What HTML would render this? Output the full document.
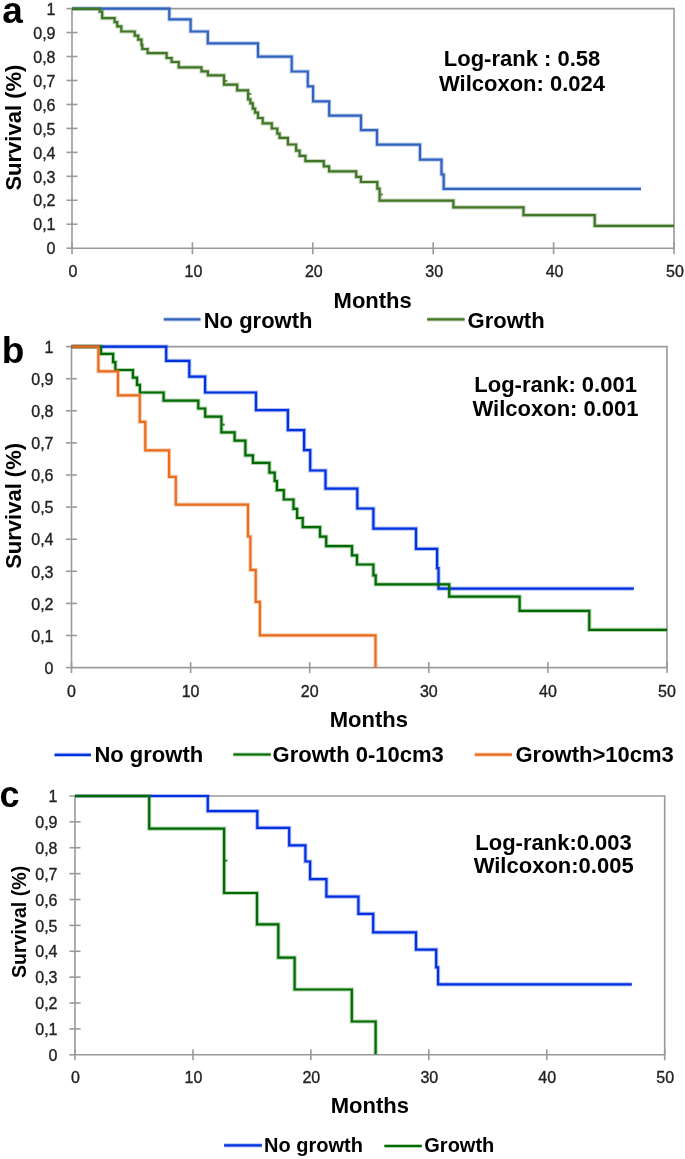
<!DOCTYPE html>
<html><head><meta charset="utf-8"><style>
html,body{margin:0;padding:0;background:#fff;overflow:hidden}
svg{display:block;font-family:"Liberation Sans",sans-serif;will-change:transform}
</style></head><body>
<svg width="685" height="1159" viewBox="0 0 685 1159">
<rect width="685" height="1159" fill="#fff"/>
<path d="M72 248.2 V8.6 H674 V248.2 H72" fill="none" stroke="#9a9a9a" stroke-width="1.6"/>
<line x1="66.5" y1="248.2" x2="72" y2="248.2" stroke="#9a9a9a" stroke-width="1.6"/>
<text x="55.5" y="254.4" font-size="16" font-weight="normal" text-anchor="end" fill="#222" stroke="#222" stroke-width="0.35">0</text>
<line x1="66.5" y1="224.24" x2="77.5" y2="224.24" stroke="#9a9a9a" stroke-width="1.6"/>
<text x="55.5" y="230.44" font-size="16" font-weight="normal" text-anchor="end" fill="#222" stroke="#222" stroke-width="0.35">0,1</text>
<line x1="66.5" y1="200.28" x2="77.5" y2="200.28" stroke="#9a9a9a" stroke-width="1.6"/>
<text x="55.5" y="206.48" font-size="16" font-weight="normal" text-anchor="end" fill="#222" stroke="#222" stroke-width="0.35">0,2</text>
<line x1="66.5" y1="176.32" x2="77.5" y2="176.32" stroke="#9a9a9a" stroke-width="1.6"/>
<text x="55.5" y="182.52" font-size="16" font-weight="normal" text-anchor="end" fill="#222" stroke="#222" stroke-width="0.35">0,3</text>
<line x1="66.5" y1="152.36" x2="77.5" y2="152.36" stroke="#9a9a9a" stroke-width="1.6"/>
<text x="55.5" y="158.56" font-size="16" font-weight="normal" text-anchor="end" fill="#222" stroke="#222" stroke-width="0.35">0,4</text>
<line x1="66.5" y1="128.4" x2="77.5" y2="128.4" stroke="#9a9a9a" stroke-width="1.6"/>
<text x="55.5" y="134.6" font-size="16" font-weight="normal" text-anchor="end" fill="#222" stroke="#222" stroke-width="0.35">0,5</text>
<line x1="66.5" y1="104.44" x2="77.5" y2="104.44" stroke="#9a9a9a" stroke-width="1.6"/>
<text x="55.5" y="110.64" font-size="16" font-weight="normal" text-anchor="end" fill="#222" stroke="#222" stroke-width="0.35">0,6</text>
<line x1="66.5" y1="80.48" x2="77.5" y2="80.48" stroke="#9a9a9a" stroke-width="1.6"/>
<text x="55.5" y="86.68" font-size="16" font-weight="normal" text-anchor="end" fill="#222" stroke="#222" stroke-width="0.35">0,7</text>
<line x1="66.5" y1="56.52" x2="77.5" y2="56.52" stroke="#9a9a9a" stroke-width="1.6"/>
<text x="55.5" y="62.72" font-size="16" font-weight="normal" text-anchor="end" fill="#222" stroke="#222" stroke-width="0.35">0,8</text>
<line x1="66.5" y1="32.56" x2="77.5" y2="32.56" stroke="#9a9a9a" stroke-width="1.6"/>
<text x="55.5" y="38.76" font-size="16" font-weight="normal" text-anchor="end" fill="#222" stroke="#222" stroke-width="0.35">0,9</text>
<line x1="66.5" y1="8.6" x2="77.5" y2="8.6" stroke="#9a9a9a" stroke-width="1.6"/>
<text x="55.5" y="14.8" font-size="16" font-weight="normal" text-anchor="end" fill="#222" stroke="#222" stroke-width="0.35">1</text>
<line x1="72" y1="242.2" x2="72" y2="254.2" stroke="#9a9a9a" stroke-width="1.6"/>
<text x="73" y="276.5" font-size="16" font-weight="normal" text-anchor="middle" fill="#222" stroke="#222" stroke-width="0.35">0</text>
<line x1="192.4" y1="242.2" x2="192.4" y2="254.2" stroke="#9a9a9a" stroke-width="1.6"/>
<text x="193.4" y="276.5" font-size="16" font-weight="normal" text-anchor="middle" fill="#222" stroke="#222" stroke-width="0.35">10</text>
<line x1="312.8" y1="242.2" x2="312.8" y2="254.2" stroke="#9a9a9a" stroke-width="1.6"/>
<text x="313.8" y="276.5" font-size="16" font-weight="normal" text-anchor="middle" fill="#222" stroke="#222" stroke-width="0.35">20</text>
<line x1="433.2" y1="242.2" x2="433.2" y2="254.2" stroke="#9a9a9a" stroke-width="1.6"/>
<text x="434.2" y="276.5" font-size="16" font-weight="normal" text-anchor="middle" fill="#222" stroke="#222" stroke-width="0.35">30</text>
<line x1="553.6" y1="242.2" x2="553.6" y2="254.2" stroke="#9a9a9a" stroke-width="1.6"/>
<text x="554.6" y="276.5" font-size="16" font-weight="normal" text-anchor="middle" fill="#222" stroke="#222" stroke-width="0.35">40</text>
<line x1="674" y1="242.2" x2="674" y2="254.2" stroke="#9a9a9a" stroke-width="1.6"/>
<text x="675" y="276.5" font-size="16" font-weight="normal" text-anchor="middle" fill="#222" stroke="#222" stroke-width="0.35">50</text>
<path d="M72 8.6 H169.3 V19.3 H190.6 V31.5 H207.8 V43.4 H258 V56.6 H291.7 V71.5 H307.8 V86.4 H313.1 V101.3 H329.2 V115.7 H361 V130.1 H377 V144.7 H420 V159.6 H441.5 V174.5 H443.7 V188.8 H641" fill="none" stroke="#3263bf" stroke-width="4.2" stroke-opacity="0.3" stroke-linejoin="miter"/>
<path d="M72 8.6 H169.3 V19.3 H190.6 V31.5 H207.8 V43.4 H258 V56.6 H291.7 V71.5 H307.8 V86.4 H313.1 V101.3 H329.2 V115.7 H361 V130.1 H377 V144.7 H420 V159.6 H441.5 V174.5 H443.7 V188.8 H641" fill="none" stroke="#3263bf" stroke-width="2.2" stroke-linejoin="miter" stroke-linecap="butt"/>
<path d="M72 8.8 H99.7 V11.7 H102.2 V18.1 H114.6 V22.2 H117.2 V26.3 H121.3 V31.5 H134.7 V35.6 H138.2 V39.7 H141.5 V45 H142.3 V49 H147.6 V53.1 H166.6 V58 H171.6 V62 H178.7 V67.4 H201.5 V71.3 H207.9 V75.3 H224 V84.7 H237.2 V90.3 H248.1 V99.3 H250.4 V103.4 H252.8 V108.6 H255.1 V112.7 H258 V118 H262.7 V123.4 H271.8 V128.5 H277.3 V133.7 H279.6 V137.8 H287.9 V144.5 H296.1 V150.7 H299.6 V155.9 H305.4 V161.2 H323.8 V166.4 H329.1 V171.3 H356.2 V176.9 H360.9 V182 H377.3 V188.7 H379.6 V200.6 H453.4 V207.4 H523.5 V215.2 H594.7 V225.9 H674" fill="none" stroke="#417627" stroke-width="4.2" stroke-opacity="0.3" stroke-linejoin="miter"/>
<path d="M72 8.8 H99.7 V11.7 H102.2 V18.1 H114.6 V22.2 H117.2 V26.3 H121.3 V31.5 H134.7 V35.6 H138.2 V39.7 H141.5 V45 H142.3 V49 H147.6 V53.1 H166.6 V58 H171.6 V62 H178.7 V67.4 H201.5 V71.3 H207.9 V75.3 H224 V84.7 H237.2 V90.3 H248.1 V99.3 H250.4 V103.4 H252.8 V108.6 H255.1 V112.7 H258 V118 H262.7 V123.4 H271.8 V128.5 H277.3 V133.7 H279.6 V137.8 H287.9 V144.5 H296.1 V150.7 H299.6 V155.9 H305.4 V161.2 H323.8 V166.4 H329.1 V171.3 H356.2 V176.9 H360.9 V182 H377.3 V188.7 H379.6 V200.6 H453.4 V207.4 H523.5 V215.2 H594.7 V225.9 H674" fill="none" stroke="#417627" stroke-width="2.2" stroke-linejoin="miter" stroke-linecap="butt"/>
<path d="M225 80.9 h2.4" stroke="#417627" stroke-width="2" stroke-opacity="0.8"/>
<path d="M249 94 h2.4" stroke="#417627" stroke-width="2" stroke-opacity="0.8"/>
<path d="M380.6 194.5 h2.4" stroke="#417627" stroke-width="2" stroke-opacity="0.8"/>
<text x="21.5" y="127.6" font-size="22" font-weight="bold" text-anchor="middle" fill="#000" transform="rotate(-90 21.5 127.6)">Survival (%)</text>
<text x="333.6" y="307.5" font-size="22" font-weight="bold" text-anchor="start" fill="#000" >Months</text>
<path d="M163.7 319.4 H200.5" fill="none" stroke="#3263bf" stroke-width="4.2" stroke-opacity="0.3" stroke-linejoin="miter"/>
<path d="M163.7 319.4 H200.5" fill="none" stroke="#3263bf" stroke-width="2.2" stroke-linejoin="miter" stroke-linecap="butt"/>
<text x="203.7" y="327.5" font-size="22" font-weight="bold" text-anchor="start" fill="#000" >No growth</text>
<path d="M427.2 319.3 H464.6" fill="none" stroke="#417627" stroke-width="4.2" stroke-opacity="0.3" stroke-linejoin="miter"/>
<path d="M427.2 319.3 H464.6" fill="none" stroke="#417627" stroke-width="2.2" stroke-linejoin="miter" stroke-linecap="butt"/>
<text x="467.6" y="327.5" font-size="22" font-weight="bold" text-anchor="start" fill="#000" >Growth</text>
<text x="522" y="66" font-size="22" font-weight="bold" text-anchor="middle" fill="#000" >Log-rank : 0.58</text>
<text x="522" y="91" font-size="22" font-weight="bold" text-anchor="middle" fill="#000" >Wilcoxon: 0.024</text>
<text x="2.2" y="22.5" font-size="37" font-weight="bold" text-anchor="start" fill="#000" >a</text>
<path d="M71.5 667.6 V346.6 H667 V667.6 H71.5" fill="none" stroke="#9a9a9a" stroke-width="1.6"/>
<line x1="66" y1="667.6" x2="71.5" y2="667.6" stroke="#9a9a9a" stroke-width="1.6"/>
<text x="53.5" y="673.8" font-size="16" font-weight="normal" text-anchor="end" fill="#222" stroke="#222" stroke-width="0.35">0</text>
<line x1="66" y1="635.5" x2="77" y2="635.5" stroke="#9a9a9a" stroke-width="1.6"/>
<text x="53.5" y="641.7" font-size="16" font-weight="normal" text-anchor="end" fill="#222" stroke="#222" stroke-width="0.35">0,1</text>
<line x1="66" y1="603.4" x2="77" y2="603.4" stroke="#9a9a9a" stroke-width="1.6"/>
<text x="53.5" y="609.6" font-size="16" font-weight="normal" text-anchor="end" fill="#222" stroke="#222" stroke-width="0.35">0,2</text>
<line x1="66" y1="571.3" x2="77" y2="571.3" stroke="#9a9a9a" stroke-width="1.6"/>
<text x="53.5" y="577.5" font-size="16" font-weight="normal" text-anchor="end" fill="#222" stroke="#222" stroke-width="0.35">0,3</text>
<line x1="66" y1="539.2" x2="77" y2="539.2" stroke="#9a9a9a" stroke-width="1.6"/>
<text x="53.5" y="545.4" font-size="16" font-weight="normal" text-anchor="end" fill="#222" stroke="#222" stroke-width="0.35">0,4</text>
<line x1="66" y1="507.1" x2="77" y2="507.1" stroke="#9a9a9a" stroke-width="1.6"/>
<text x="53.5" y="513.3" font-size="16" font-weight="normal" text-anchor="end" fill="#222" stroke="#222" stroke-width="0.35">0,5</text>
<line x1="66" y1="475" x2="77" y2="475" stroke="#9a9a9a" stroke-width="1.6"/>
<text x="53.5" y="481.2" font-size="16" font-weight="normal" text-anchor="end" fill="#222" stroke="#222" stroke-width="0.35">0,6</text>
<line x1="66" y1="442.9" x2="77" y2="442.9" stroke="#9a9a9a" stroke-width="1.6"/>
<text x="53.5" y="449.1" font-size="16" font-weight="normal" text-anchor="end" fill="#222" stroke="#222" stroke-width="0.35">0,7</text>
<line x1="66" y1="410.8" x2="77" y2="410.8" stroke="#9a9a9a" stroke-width="1.6"/>
<text x="53.5" y="417" font-size="16" font-weight="normal" text-anchor="end" fill="#222" stroke="#222" stroke-width="0.35">0,8</text>
<line x1="66" y1="378.7" x2="77" y2="378.7" stroke="#9a9a9a" stroke-width="1.6"/>
<text x="53.5" y="384.9" font-size="16" font-weight="normal" text-anchor="end" fill="#222" stroke="#222" stroke-width="0.35">0,9</text>
<line x1="66" y1="346.6" x2="77" y2="346.6" stroke="#9a9a9a" stroke-width="1.6"/>
<text x="53.5" y="352.8" font-size="16" font-weight="normal" text-anchor="end" fill="#222" stroke="#222" stroke-width="0.35">1</text>
<line x1="71.5" y1="662.1" x2="71.5" y2="673.1" stroke="#9a9a9a" stroke-width="1.6"/>
<text x="71.5" y="696.5" font-size="16" font-weight="normal" text-anchor="middle" fill="#222" stroke="#222" stroke-width="0.35">0</text>
<line x1="190.6" y1="662.1" x2="190.6" y2="673.1" stroke="#9a9a9a" stroke-width="1.6"/>
<text x="190.6" y="696.5" font-size="16" font-weight="normal" text-anchor="middle" fill="#222" stroke="#222" stroke-width="0.35">10</text>
<line x1="309.7" y1="662.1" x2="309.7" y2="673.1" stroke="#9a9a9a" stroke-width="1.6"/>
<text x="309.7" y="696.5" font-size="16" font-weight="normal" text-anchor="middle" fill="#222" stroke="#222" stroke-width="0.35">20</text>
<line x1="428.8" y1="662.1" x2="428.8" y2="673.1" stroke="#9a9a9a" stroke-width="1.6"/>
<text x="428.8" y="696.5" font-size="16" font-weight="normal" text-anchor="middle" fill="#222" stroke="#222" stroke-width="0.35">30</text>
<line x1="547.9" y1="662.1" x2="547.9" y2="673.1" stroke="#9a9a9a" stroke-width="1.6"/>
<text x="547.9" y="696.5" font-size="16" font-weight="normal" text-anchor="middle" fill="#222" stroke="#222" stroke-width="0.35">40</text>
<line x1="667" y1="662.1" x2="667" y2="673.1" stroke="#9a9a9a" stroke-width="1.6"/>
<text x="667" y="696.5" font-size="16" font-weight="normal" text-anchor="middle" fill="#222" stroke="#222" stroke-width="0.35">50</text>
<path d="M71.5 346.6 H166.2 V360.9 H189.3 V376.7 H205.1 V392.5 H256 V410.1 H287.9 V430.2 H304.1 V450.1 H310.2 V470.5 H325.5 V488.6 H357.3 V508.5 H373.4 V528.7 H416 V548.8 H437.1 V568.2 H438.5 V588.7 H633.8" fill="none" stroke="#0033e0" stroke-width="4.2" stroke-opacity="0.3" stroke-linejoin="miter"/>
<path d="M71.5 346.6 H166.2 V360.9 H189.3 V376.7 H205.1 V392.5 H256 V410.1 H287.9 V430.2 H304.1 V450.1 H310.2 V470.5 H325.5 V488.6 H357.3 V508.5 H373.4 V528.7 H416 V548.8 H437.1 V568.2 H438.5 V588.7 H633.8" fill="none" stroke="#0033e0" stroke-width="2.2" stroke-linejoin="miter" stroke-linecap="butt"/>
<path d="M71.5 346.6 H101 V353.9 H113.1 V362.2 H115.4 V370 H132.9 V377.6 H137 V384.9 H139.9 V392.5 H163.6 V400.7 H198.3 V408.5 H205.2 V416.7 H221.4 V432.4 H234.6 V440.6 H245.4 V455.4 H252.9 V462.8 H269.4 V472.6 H274.7 V481 H276.9 V490.1 H283.8 V499.5 H293.5 V508.8 H297.1 V518 H302.7 V527.2 H320 V536.6 H326.2 V546.2 H352 V555.4 H357 V564.5 H373.4 V575.3 H375.7 V584.4 H449.2 V596.6 H519.6 V610.8 H589.3 V629.8 H667" fill="none" stroke="#006b00" stroke-width="4.2" stroke-opacity="0.3" stroke-linejoin="miter"/>
<path d="M71.5 346.6 H101 V353.9 H113.1 V362.2 H115.4 V370 H132.9 V377.6 H137 V384.9 H139.9 V392.5 H163.6 V400.7 H198.3 V408.5 H205.2 V416.7 H221.4 V432.4 H234.6 V440.6 H245.4 V455.4 H252.9 V462.8 H269.4 V472.6 H274.7 V481 H276.9 V490.1 H283.8 V499.5 H293.5 V508.8 H297.1 V518 H302.7 V527.2 H320 V536.6 H326.2 V546.2 H352 V555.4 H357 V564.5 H373.4 V575.3 H375.7 V584.4 H449.2 V596.6 H519.6 V610.8 H589.3 V629.8 H667" fill="none" stroke="#006b00" stroke-width="2.2" stroke-linejoin="miter" stroke-linecap="butt"/>
<path d="M71.5 346.6 H98.4 V371.4 H118 V395.4 H139.8 V421.9 H145.3 V450.3 H169.1 V476.8 H175.8 V504.7 H248 V536.5 H250.4 V569.8 H255.7 V601.8 H259.9 V635.3 H375.5 V667.6" fill="none" stroke="#e86d1e" stroke-width="4.2" stroke-opacity="0.3" stroke-linejoin="miter"/>
<path d="M71.5 346.6 H98.4 V371.4 H118 V395.4 H139.8 V421.9 H145.3 V450.3 H169.1 V476.8 H175.8 V504.7 H248 V536.5 H250.4 V569.8 H255.7 V601.8 H259.9 V635.3 H375.5 V667.6" fill="none" stroke="#e86d1e" stroke-width="2.2" stroke-linejoin="miter" stroke-linecap="butt"/>
<path d="M222.4 424.6 h2.4" stroke="#006b00" stroke-width="2" stroke-opacity="0.8"/>
<text x="21.3" y="505.9" font-size="22" font-weight="bold" text-anchor="middle" fill="#000" transform="rotate(-90 21.3 505.9)">Survival (%)</text>
<text x="329.7" y="727.4" font-size="22" font-weight="bold" text-anchor="start" fill="#000" >Months</text>
<path d="M54.5 754.8 H91" fill="none" stroke="#0033e0" stroke-width="4.2" stroke-opacity="0.3" stroke-linejoin="miter"/>
<path d="M54.5 754.8 H91" fill="none" stroke="#0033e0" stroke-width="2.2" stroke-linejoin="miter" stroke-linecap="butt"/>
<text x="94.4" y="761.8" font-size="22" font-weight="bold" text-anchor="start" fill="#000" >No growth</text>
<path d="M233.3 754.5 H270.8" fill="none" stroke="#006b00" stroke-width="4.2" stroke-opacity="0.3" stroke-linejoin="miter"/>
<path d="M233.3 754.5 H270.8" fill="none" stroke="#006b00" stroke-width="2.2" stroke-linejoin="miter" stroke-linecap="butt"/>
<text x="272.6" y="761.8" font-size="22" font-weight="bold" text-anchor="start" fill="#000" >Growth 0-10cm3</text>
<path d="M474.8 754.6 H511.9" fill="none" stroke="#e86d1e" stroke-width="4.2" stroke-opacity="0.3" stroke-linejoin="miter"/>
<path d="M474.8 754.6 H511.9" fill="none" stroke="#e86d1e" stroke-width="2.2" stroke-linejoin="miter" stroke-linecap="butt"/>
<text x="515.5" y="761.8" font-size="22" font-weight="bold" text-anchor="start" fill="#000" >Growth&gt;10cm3</text>
<text x="474.3" y="391.9" font-size="22" font-weight="bold" text-anchor="start" fill="#000" >Log-rank: 0.001</text>
<text x="472.5" y="416.3" font-size="22" font-weight="bold" text-anchor="start" fill="#000" >Wilcoxon: 0.001</text>
<text x="1.7" y="363.2" font-size="37" font-weight="bold" text-anchor="start" fill="#000" >b</text>
<path d="M75 1054.8 V796 H664.7 V1054.8 H75" fill="none" stroke="#9a9a9a" stroke-width="1.6"/>
<line x1="69.5" y1="1054.8" x2="75" y2="1054.8" stroke="#9a9a9a" stroke-width="1.6"/>
<text x="57.5" y="1061" font-size="16" font-weight="normal" text-anchor="end" fill="#222" stroke="#222" stroke-width="0.35">0</text>
<line x1="69.5" y1="1028.92" x2="80.5" y2="1028.92" stroke="#9a9a9a" stroke-width="1.6"/>
<text x="57.5" y="1035.12" font-size="16" font-weight="normal" text-anchor="end" fill="#222" stroke="#222" stroke-width="0.35">0,1</text>
<line x1="69.5" y1="1003.04" x2="80.5" y2="1003.04" stroke="#9a9a9a" stroke-width="1.6"/>
<text x="57.5" y="1009.24" font-size="16" font-weight="normal" text-anchor="end" fill="#222" stroke="#222" stroke-width="0.35">0,2</text>
<line x1="69.5" y1="977.16" x2="80.5" y2="977.16" stroke="#9a9a9a" stroke-width="1.6"/>
<text x="57.5" y="983.36" font-size="16" font-weight="normal" text-anchor="end" fill="#222" stroke="#222" stroke-width="0.35">0,3</text>
<line x1="69.5" y1="951.28" x2="80.5" y2="951.28" stroke="#9a9a9a" stroke-width="1.6"/>
<text x="57.5" y="957.48" font-size="16" font-weight="normal" text-anchor="end" fill="#222" stroke="#222" stroke-width="0.35">0,4</text>
<line x1="69.5" y1="925.4" x2="80.5" y2="925.4" stroke="#9a9a9a" stroke-width="1.6"/>
<text x="57.5" y="931.6" font-size="16" font-weight="normal" text-anchor="end" fill="#222" stroke="#222" stroke-width="0.35">0,5</text>
<line x1="69.5" y1="899.52" x2="80.5" y2="899.52" stroke="#9a9a9a" stroke-width="1.6"/>
<text x="57.5" y="905.72" font-size="16" font-weight="normal" text-anchor="end" fill="#222" stroke="#222" stroke-width="0.35">0,6</text>
<line x1="69.5" y1="873.64" x2="80.5" y2="873.64" stroke="#9a9a9a" stroke-width="1.6"/>
<text x="57.5" y="879.84" font-size="16" font-weight="normal" text-anchor="end" fill="#222" stroke="#222" stroke-width="0.35">0,7</text>
<line x1="69.5" y1="847.76" x2="80.5" y2="847.76" stroke="#9a9a9a" stroke-width="1.6"/>
<text x="57.5" y="853.96" font-size="16" font-weight="normal" text-anchor="end" fill="#222" stroke="#222" stroke-width="0.35">0,8</text>
<line x1="69.5" y1="821.88" x2="80.5" y2="821.88" stroke="#9a9a9a" stroke-width="1.6"/>
<text x="57.5" y="828.08" font-size="16" font-weight="normal" text-anchor="end" fill="#222" stroke="#222" stroke-width="0.35">0,9</text>
<line x1="69.5" y1="796" x2="80.5" y2="796" stroke="#9a9a9a" stroke-width="1.6"/>
<text x="57.5" y="802.2" font-size="16" font-weight="normal" text-anchor="end" fill="#222" stroke="#222" stroke-width="0.35">1</text>
<line x1="75" y1="1049.3" x2="75" y2="1060.3" stroke="#9a9a9a" stroke-width="1.6"/>
<text x="75.5" y="1083.3" font-size="16" font-weight="normal" text-anchor="middle" fill="#222" stroke="#222" stroke-width="0.35">0</text>
<line x1="192.94" y1="1049.3" x2="192.94" y2="1060.3" stroke="#9a9a9a" stroke-width="1.6"/>
<text x="193.44" y="1083.3" font-size="16" font-weight="normal" text-anchor="middle" fill="#222" stroke="#222" stroke-width="0.35">10</text>
<line x1="310.88" y1="1049.3" x2="310.88" y2="1060.3" stroke="#9a9a9a" stroke-width="1.6"/>
<text x="311.38" y="1083.3" font-size="16" font-weight="normal" text-anchor="middle" fill="#222" stroke="#222" stroke-width="0.35">20</text>
<line x1="428.82" y1="1049.3" x2="428.82" y2="1060.3" stroke="#9a9a9a" stroke-width="1.6"/>
<text x="429.32" y="1083.3" font-size="16" font-weight="normal" text-anchor="middle" fill="#222" stroke="#222" stroke-width="0.35">30</text>
<line x1="546.76" y1="1049.3" x2="546.76" y2="1060.3" stroke="#9a9a9a" stroke-width="1.6"/>
<text x="547.26" y="1083.3" font-size="16" font-weight="normal" text-anchor="middle" fill="#222" stroke="#222" stroke-width="0.35">40</text>
<line x1="664.7" y1="1049.3" x2="664.7" y2="1060.3" stroke="#9a9a9a" stroke-width="1.6"/>
<text x="665.2" y="1083.3" font-size="16" font-weight="normal" text-anchor="middle" fill="#222" stroke="#222" stroke-width="0.35">50</text>
<path d="M75 796 H207.8 V811.1 H257.3 V827.9 H289.2 V845.3 H305.4 V861.5 H310.1 V879.1 H326.4 V896.6 H358.4 V913.8 H373.2 V932.4 H416 V949.6 H436.2 V967.4 H438.1 V984.4 H631.8" fill="none" stroke="#0030e0" stroke-width="4.2" stroke-opacity="0.3" stroke-linejoin="miter"/>
<path d="M75 796 H207.8 V811.1 H257.3 V827.9 H289.2 V845.3 H305.4 V861.5 H310.1 V879.1 H326.4 V896.6 H358.4 V913.8 H373.2 V932.4 H416 V949.6 H436.2 V967.4 H438.1 V984.4 H631.8" fill="none" stroke="#0030e0" stroke-width="2.2" stroke-linejoin="miter" stroke-linecap="butt"/>
<path d="M75 796 H149.2 V828.6 H224.1 V893 H257 V924.4 H278.3 V957.7 H294.6 V989.5 H351.8 V1021.5 H375.6 V1054.2" fill="none" stroke="#006b00" stroke-width="4.2" stroke-opacity="0.3" stroke-linejoin="miter"/>
<path d="M75 796 H149.2 V828.6 H224.1 V893 H257 V924.4 H278.3 V957.7 H294.6 V989.5 H351.8 V1021.5 H375.6 V1054.2" fill="none" stroke="#006b00" stroke-width="2.2" stroke-linejoin="miter" stroke-linecap="butt"/>
<path d="M225.1 860.6 h2.4" stroke="#006b00" stroke-width="2" stroke-opacity="0.8"/>
<text x="25.8" y="921.9" font-size="19.6" font-weight="bold" text-anchor="middle" fill="#000" transform="rotate(-90 25.8 921.9)">Survival (%)</text>
<text x="330.7" y="1113.4" font-size="22" font-weight="bold" text-anchor="start" fill="#000" >Months</text>
<path d="M224.1 1145.4 H261.9" fill="none" stroke="#0030e0" stroke-width="4.2" stroke-opacity="0.3" stroke-linejoin="miter"/>
<path d="M224.1 1145.4 H261.9" fill="none" stroke="#0030e0" stroke-width="2.2" stroke-linejoin="miter" stroke-linecap="butt"/>
<text x="264" y="1151.6" font-size="20" font-weight="bold" text-anchor="start" fill="#000" >No growth</text>
<path d="M384.4 1146 H421.8" fill="none" stroke="#006b00" stroke-width="4.2" stroke-opacity="0.3" stroke-linejoin="miter"/>
<path d="M384.4 1146 H421.8" fill="none" stroke="#006b00" stroke-width="2.2" stroke-linejoin="miter" stroke-linecap="butt"/>
<text x="424.3" y="1151.6" font-size="20" font-weight="bold" text-anchor="start" fill="#000" >Growth</text>
<text x="475.3" y="849.7" font-size="22" font-weight="bold" text-anchor="start" fill="#000" >Log-rank:0.003</text>
<text x="473.7" y="872.5" font-size="22" font-weight="bold" text-anchor="start" fill="#000" >Wilcoxon:0.005</text>
<text x="-0.4" y="806.7" font-size="36" font-weight="bold" text-anchor="start" fill="#000" >c</text>
</svg></body></html>
